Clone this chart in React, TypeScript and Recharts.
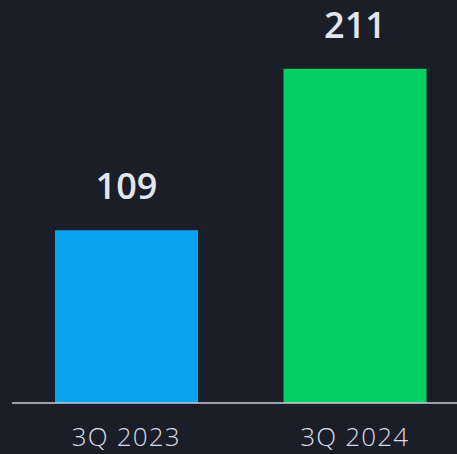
import React from "react";
import { BarChart, Bar, XAxis, YAxis, Cell, LabelList } from "recharts";

const categories = ["3Q 2023", "3Q 2024"];
const values = [109, 211];
const colors = ["#0aa3ee", "#00d062"];

const data = categories.map((c, i) => ({ name: c, value: values[i] }));

const FONT = "'Open Sans', sans-serif";

const Tick = (props: any) => {
  const { x, y, payload } = props;
  return (
    <text x={x} y={y + 35} textAnchor="middle" fill="#d9dce6" fontSize={26} letterSpacing={1.2} fontFamily={FONT} fontWeight={300}>
      {payload.value}
    </text>
  );
};

export default function App() {
  return (
    <div style={{ position: "fixed", left: 0, top: 0, width: 457, height: 454, overflow: "hidden", background: "#1b1d28" }}>
      <BarChart
        width={469}
        height={454}
        data={data}
        margin={{ top: 7, right: 0, bottom: 11, left: 12 }}
        barSize={143}
      >
        <YAxis hide domain={[0, 250]} />
        <XAxis
          dataKey="name"
          height={40}
          axisLine={{ stroke: "#c9ccd6", strokeWidth: 1.5 }}
          tickLine={false}
          tick={<Tick />}
          interval={0}
        />
        <Bar dataKey="value" isAnimationActive={false}>
          {data.map((d, i) => (
            <Cell key={d.name} fill={colors[i]} />
          ))}
          <LabelList
            dataKey="value"
            position="top"
            offset={31}
            fill="#e3e6f0"
            fontSize={36}
            fontWeight={600}
            fontFamily={FONT}
          />
        </Bar>
      </BarChart>
    </div>
  );
}
